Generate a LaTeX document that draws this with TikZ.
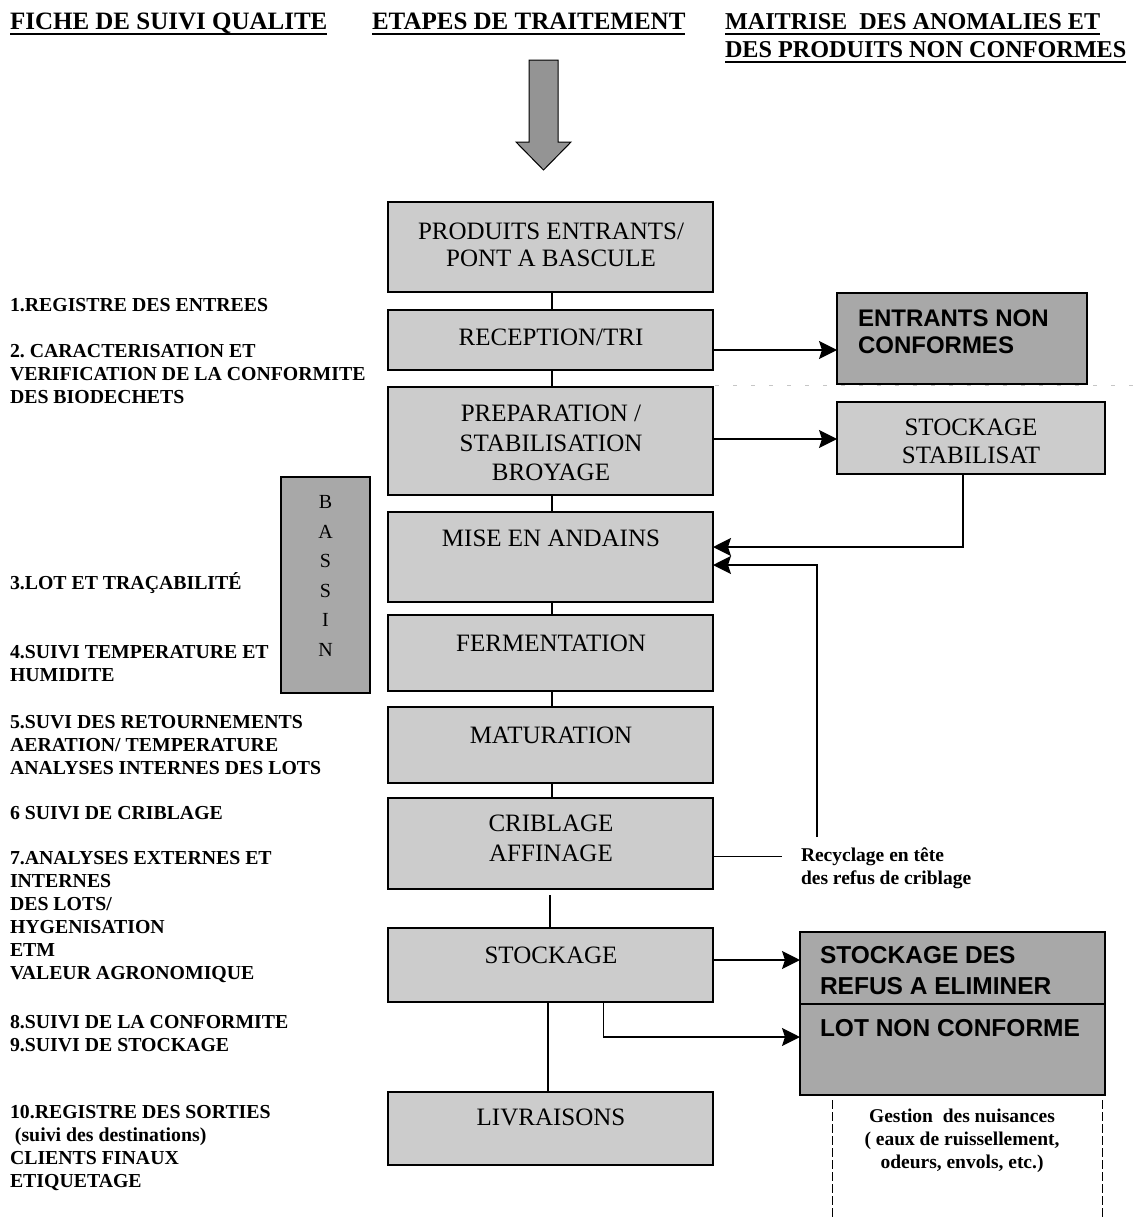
\documentclass[tikz,border=0pt]{standalone}
\usepackage{fontspec}
\setmainfont{Liberation Serif}
\newfontfamily\arialf{Liberation Sans}
\usetikzlibrary{arrows.meta,calc}
\definecolor{boxgray}{gray}{0.80}
\definecolor{darkboxgray}{gray}{0.66}
\definecolor{bigarrowgray}{gray}{0.58}
\frenchspacing
\begin{document}
\begin{tikzpicture}[x=1pt,y=-1pt,
  every node/.style={inner sep=0pt, outer sep=0pt},
  procbox/.style={draw=black, line width=1.6pt, fill=boxgray, minimum width=325pt, anchor=north west},
  lightbox/.style={draw=black, line width=1.6pt, fill=boxgray, anchor=north west},
  darkbox/.style={draw=black, line width=1.6pt, fill=darkboxgray, anchor=north west},
  ptext/.style={font=\fontsize{25}{28}\selectfont, align=center},
  btext/.style={font=\arialf\bfseries\fontsize{24}{29}\selectfont, align=left, anchor=west},
  lefttext/.style={font=\bfseries\fontsize{19.8}{23}\selectfont, align=left, anchor=west},
  notetext/.style={font=\bfseries\fontsize{19.5}{23}\selectfont},
  headtext/.style={font=\bfseries\fontsize{25}{28}\selectfont, anchor=base west},
  headtextr/.style={font=\bfseries\fontsize{24.2}{28}\selectfont, anchor=base west},
  uline/.style={line width=2pt},
  conn/.style={line width=1.6pt},
  arr/.style={conn, -{Stealth[length=18pt,width=18pt,inset=3pt]}},
  dashline/.style={line width=1pt, dash pattern=on 9pt off 3pt},
]
\useasboundingbox (0,0) rectangle (1136,1218);

% headers
\node[headtext] (h1) at (10,29) {FICHE DE SUIVI QUALITE};
\node[headtext] (h2) at (372,29) {ETAPES DE TRAITEMENT};
\node[headtextr] (h3) at (725,29) {MAITRISE\ \ DES ANOMALIES ET};
\node[headtextr] (h4) at (725,57) {DES PRODUITS NON CONFORMES};
\foreach \h in {h1,h2,h3,h4}
  \draw[uline] ([yshift=-4.5pt]\h.base west) -- ([yshift=-4.5pt]\h.base east);

% big arrow
\draw[fill=bigarrowgray, line width=1pt] (529,60) -- (558,60) -- (558,142) -- (571,142)
  -- (543.5,170) -- (516,142) -- (529,142) -- cycle;

% central boxes
\node[procbox, minimum height=90pt] (prod) at (388,202) {};
\node[ptext, font=\fontsize{25}{27}\selectfont] (prodt) at (551,245) {PRODUITS ENTRANTS/\\PONT A BASCULE};
\node[procbox, minimum height=60pt] (recep) at (388,310) {};
\node[ptext] (rect) at (551,337) {RECEPTION/TRI};
\node[procbox, minimum height=108pt] (prep) at (388,387) {};
\node[ptext, font=\fontsize{25}{29.5}\selectfont] (prept) at (551,443) {PREPARATION /\\STABILISATION\\BROYAGE};
\node[procbox, minimum height=90pt] (mise) at (388,512) {};
\node[ptext] (miset) at (551,538) {MISE EN ANDAINS};
\node[procbox, minimum height=76pt] (ferm) at (388,615) {};
\node[ptext] (fermt) at (551,643) {FERMENTATION};
\node[procbox, minimum height=76pt] (matu) at (388,707) {};
\node[ptext] (matut) at (551,735) {MATURATION};
\node[procbox, minimum height=91pt] (crib) at (388,798) {};
\node[ptext, font=\fontsize{25}{30}\selectfont] (cribt) at (551,838) {CRIBLAGE\\AFFINAGE};
\node[procbox, minimum height=74pt] (stock) at (388,928) {};
\node[ptext] (stockt) at (551,955) {STOCKAGE};
\node[procbox, minimum height=73pt] (livr) at (388,1092) {};
\node[ptext] (livrt) at (551,1117) {LIVRAISONS};

% vertical connectors
\draw[conn] ([xshift=1.5pt]prod.south) -- ([xshift=1.5pt]recep.north);
\draw[conn] ([xshift=1.5pt]recep.south) -- ([xshift=1.5pt]prep.north);
\draw[conn] ([xshift=1.5pt]prep.south) -- ([xshift=1.5pt]mise.north);
\draw[conn] ([xshift=1.5pt]mise.south) -- ([xshift=1.5pt]ferm.north);
\draw[conn] ([xshift=1.5pt]ferm.south) -- ([xshift=1.5pt]matu.north);
\draw[conn] ([xshift=1.5pt]matu.south) -- ([xshift=1.5pt]crib.north);
\draw[conn] ([xshift=-0.5pt,yshift=-6pt]crib.south) -- ([xshift=-0.5pt]stock.north);
\draw[conn] ([xshift=-2.5pt]stock.south) -- ([xshift=-2.5pt]livr.north);

% BASSIN
\node[darkbox, minimum width=89pt, minimum height=216pt] (bassin) at (281,477) {};
\node[font=\fontsize{20}{29.6}\selectfont, align=center] (bassint) at (325.5,576) {B\\A\\S\\S\\I\\N};

% faint separator
\coordinate (sepa) at (715,385);
\coordinate (sepb) at (1136,385);
\draw[gray!45, line width=0.8pt, dash pattern=on 4pt off 14pt] (sepa) -- (sepb);

% right boxes
\node[darkbox, minimum width=250pt, minimum height=91pt] (entr) at (837,293) {};
\node[btext, font=\arialf\bfseries\fontsize{24}{27}\selectfont] (entrt) at (858,331.5) {ENTRANTS NON\\CONFORMES};
\node[lightbox, minimum width=268pt, minimum height=72pt] (stab) at (837,402) {};
\node[ptext] (stabt) at (971,441) {STOCKAGE\\STABILISAT};
\node[darkbox, minimum width=305pt, minimum height=72pt] (refus) at (800,932) {};
\node[btext, font=\arialf\bfseries\fontsize{24.5}{31}\selectfont] (refust) at (820,971) {STOCKAGE DES\\REFUS A ELIMINER};
\node[darkbox, minimum width=305pt, minimum height=91pt] (lot) at (800,1004) {};
\node[btext, font=\arialf\bfseries\fontsize{24.5}{29}\selectfont] (lott) at (820,1028) {LOT NON CONFORME};

% horizontal connectors
\draw[arr] ([yshift=-10pt]recep.east) -- ([yshift=-10pt]recep.east -| entr.west);
\draw[arr] ([yshift=2pt]prep.east) -- ([yshift=2pt]prep.east -| stab.west);
\draw[arr] ([xshift=-8pt]stab.south) |- ([yshift=10pt]mise.east);
\coordinate (rectop) at (817,837);
\draw[arr] (rectop) |- ([yshift=-8pt]mise.east);
\coordinate (cribend) at (782,856.5);
\draw[conn] (crib.east |- cribend) -- (cribend);
\draw[arr] ([yshift=5pt]stock.east) -- ([yshift=5pt]stock.east -| refus.west);
\draw[arr] ([xshift=53pt]stock.south) |- ([yshift=12.5pt]lot.west);

% notes
\node[notetext, align=left, anchor=west] (recyc) at (801,868.5) {Recyclage en tête\\des refus de criblage};
\node[notetext, align=center] (gest) at (962,1141) {Gestion\ \ des nuisances\\( eaux de ruissellement,\\odeurs, envols, etc.)};
\coordinate (d1a) at (832,1100);
\coordinate (d1b) at (832,1218);
\coordinate (d2a) at (1102,1100);
\coordinate (d2b) at (1102,1218);
\draw[dashline] (d1a) -- (d1b);
\draw[dashline] (d2a) -- (d2b);

% left column
\node[lefttext] (l1) at (10,305) {1.REGISTRE DES ENTREES};
\node[lefttext] (l2) at (10,374.5) {2. CARACTERISATION ET\\VERIFICATION DE LA CONFORMITE\\DES BIODECHETS};
\node[lefttext] (l3) at (10,583) {3.LOT ET TRAÇABILITÉ};
\node[lefttext] (l4) at (10,663.5) {4.SUIVI TEMPERATURE ET\\HUMIDITE};
\node[lefttext] (l5) at (10,745) {5.SUVI DES RETOURNEMENTS\\AERATION/ TEMPERATURE\\ANALYSES INTERNES DES LOTS};
\node[lefttext] (l6) at (10,813) {6 SUIVI DE CRIBLAGE};
\node[lefttext] (l7) at (10,917.5) {7.ANALYSES EXTERNES ET\\INTERNES\\DES LOTS/\\HYGENISATION\\ETM\\VALEUR AGRONOMIQUE};
\node[lefttext] (l8) at (10,1033.5) {8.SUIVI DE LA CONFORMITE\\9.SUIVI DE STOCKAGE};
\node[lefttext] (l10) at (10,1148.5) {10.REGISTRE DES SORTIES\\\ (suivi des destinations)\\CLIENTS FINAUX\\ETIQUETAGE};
\end{tikzpicture}
\end{document}
